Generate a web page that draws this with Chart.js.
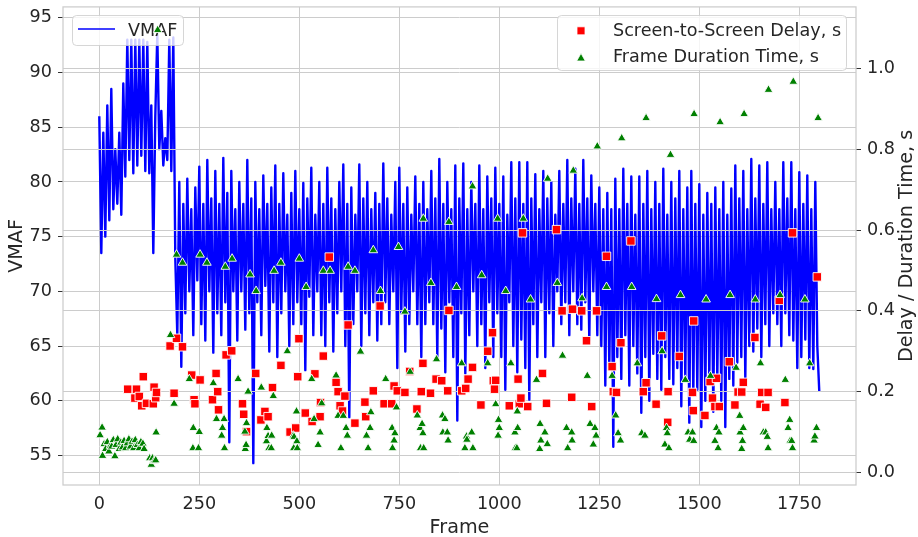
<!DOCTYPE html>
<html><head><meta charset="utf-8">
<script src="https://cdn.jsdelivr.net/npm/chart.js@4.4.1/dist/chart.umd.min.js"></script>
<style>html,body{margin:0;padding:0;background:#fff;}#wrap{width:918px;height:537px;}</style>
</head><body><div id="wrap"><canvas id="c" width="918" height="537"></canvas></div>
<script>
// ---- data ----
const xTicks = [0, 250, 500, 750, 1000, 1250, 1500, 1750];
const vmafTicks = [55, 60, 65, 70, 75, 80, 85, 90, 95];
const timeTicks = [0, 0.2, 0.4, 0.6, 0.8, 1.0];
const frameStep = 5; // VMAF sampled every 5th frame
const vmaf = [
 86, 73.5, 84.5, 75, 87, 76.5, 88.5, 77.5, 83, 78,
 84.5, 77, 89, 80.5, 93, 82, 93, 80.8, 93, 81.5,
 93, 82.4, 93, 81, 92.8, 80.8, 87, 73.5, 86, 93.5,
 83, 86.5, 81.5, 84, 82, 93, 81, 93.2, 73, 66,
 80, 63.1, 78, 68, 80.3, 70, 77.5, 66, 79.5, 71,
 81.4, 67, 78, 65.5, 82, 70, 78.5, 64.4, 81, 68,
 78, 66, 82.2, 69, 79, 56.2, 81, 70, 77.5, 65.5,
 80, 70, 78, 66.5, 82, 68, 78.5, 54.3, 80, 69,
 77.5, 66, 80.6, 70.5, 78, 64.5, 79.5, 69, 81.5, 64,
 78, 68, 80.8, 70, 77, 65, 79, 67, 81, 69,
 77.5, 67, 79.9, 62.8, 78.5, 69.5, 81.3, 66, 77, 70,
 80, 66, 78, 65, 81.3, 69, 78.5, 64.5, 77.5, 68,
 80, 70, 81.6, 65, 78, 58.5, 79.5, 67, 77, 70,
 81.6, 65, 78.5, 68, 80, 66, 77.5, 69, 79, 65.5,
 78, 67, 81.7, 69, 78.5, 67, 77, 70, 80, 63,
 81.3, 68, 78, 64.5, 79.5, 67, 77, 70, 80.5, 67,
 78, 64, 80, 67, 77.5, 69, 81, 67, 78.5, 64,
 82.1, 66.6, 78, 62.6, 80, 69, 77.5, 64, 81.5, 58.2,
 78.5, 68, 81.7, 62.5, 77.5, 66, 80, 70, 78, 65,
 81.5, 67, 77.5, 63, 80.5, 69, 78.5, 64, 81.3, 68,
 78, 64, 80.5, 61, 77, 69, 81.8, 65, 78.5, 62.6,
 81.8, 65.6, 78, 63, 81.8, 60.1, 78.5, 67, 80.7, 64,
 77.5, 69, 81, 64, 78.5, 68, 80, 65, 77, 70,
 81, 67, 78, 69, 82, 66, 78.5, 70, 81.2, 67,
 78, 66.5, 82, 69, 78.5, 65.5, 80.6, 70, 78, 66,
 79.5, 65, 77.5, 61.4, 79, 63, 77.5, 55.8, 80.3, 64,
 77.5, 62, 81.2, 66, 78, 61.4, 80.5, 65, 77, 62.5,
 80.5, 58.9, 78, 64, 81, 60, 77.5, 64.3, 80, 62,
 78, 61, 81.2, 64, 77, 62, 80, 61.5, 78.5, 63,
 81, 59.5, 77.5, 62, 79.5, 58, 81, 60.5, 78, 61,
 79.8, 57.6, 77, 60, 79, 62, 78, 59, 79.5, 62,
 77.5, 60, 80, 57.6, 77, 62, 79.4, 61.4, 81.5, 63.5,
 78.5, 64, 81, 62, 77.5, 65, 82.1, 64.5, 78.5, 66.6,
 81.5, 64, 78, 67, 81.8, 65, 77.5, 68, 80, 67,
 77.5, 65, 81.8, 68, 78.5, 66, 81.8, 65.5, 77.5, 63,
 80.9, 64, 78, 65.6, 80.6, 63, 77.5, 62.9, 80, 65,
 60.8
];
// [frame, seconds]
const delayPoints = [
 [71,0.206],[89,0.184],[93,0.206],[100,0.188],[106,0.165],[110,0.237],[118,0.171],[135,0.170],[137,0.211],[141,0.185],
 [143,0.198],[177,0.313],[187,0.196],[193,0.332],[208,0.311],[231,0.241],[237,0.180],[239,0.170],[252,0.229],[283,0.180],
 [292,0.245],[296,0.200],[298,0.155],[317,0.291],[331,0.301],[358,0.170],[361,0.144],[368,0.101],[391,0.245],[404,0.130],
 [414,0.151],[422,0.138],[433,0.210],[454,0.265],[477,0.100],[491,0.110],[496,0.237],[499,0.331],[515,0.147],[532,0.126],
 [539,0.244],[552,0.138],[553,0.173],[560,0.288],[575,0.533],[592,0.223],[597,0.200],[602,0.165],[608,0.152],[614,0.189],
 [622,0.365],[639,0.122],[664,0.174],[666,0.138],[685,0.202],[702,0.412],[712,0.170],[731,0.170],[737,0.214],[745,0.202],
 [764,0.198],[776,0.250],[794,0.157],[805,0.200],[809,0.270],[828,0.196],[842,0.231],[856,0.227],[871,0.202],[874,0.401],
 [906,0.202],[916,0.208],[922,0.231],[933,0.260],[954,0.167],[971,0.300],[983,0.346],[985,0.227],[988,0.206],[991,0.228],
 [1025,0.165],[1047,0.231],[1050,0.170],[1054,0.184],[1058,0.593],[1071,0.163],[1108,0.245],[1118,0.171],[1143,0.601],[1157,0.400],
 [1181,0.186],[1183,0.404],[1206,0.400],[1218,0.326],[1231,0.163],[1243,0.400],[1268,0.535],[1282,0.262],[1285,0.200],[1293,0.198],
 [1304,0.321],[1329,0.573],[1360,0.200],[1367,0.222],[1392,0.169],[1406,0.338],[1421,0.124],[1422,0.200],[1450,0.287],[1483,0.198],
 [1485,0.153],[1486,0.375],[1514,0.141],[1527,0.225],[1533,0.184],[1539,0.163],[1543,0.233],[1550,0.163],[1575,0.274],[1589,0.167],
 [1597,0.199],[1606,0.199],[1610,0.223],[1639,0.334],[1652,0.169],[1656,0.198],[1666,0.161],[1672,0.198],[1700,0.426],[1714,0.173],
 [1733,0.593],[1795,0.484]
];
const durationPoints = [
 [2,0.092],[7,0.111],[8,0.041],[12,0.070],[16,0.058],[20,0.075],[24,0.052],[28,0.066],[31,0.064],[35,0.080],
 [39,0.040],[42,0.068],[46,0.082],[50,0.058],[54,0.074],[58,0.062],[62,0.078],[66,0.060],[70,0.072],[74,0.082],
 [78,0.064],[82,0.076],[86,0.060],[90,0.080],[95,0.068],[100,0.060],[104,0.075],[109,0.071],[112,0.058],[126,0.035],
 [130,0.019],[133,0.035],[137,0.028],[141,0.030],[142,0.099],[146,1.095],[178,0.340],[187,0.170],[193,0.539],[208,0.519],
 [225,0.231],[234,0.060],[235,0.110],[248,0.060],[250,0.100],[252,0.539],[269,0.519],[285,0.221],[293,0.132],[306,0.091],
 [308,0.110],[312,0.132],[313,0.060],[315,0.509],[332,0.529],[347,0.231],[364,0.101],[365,0.058],[367,0.068],[368,0.122],
 [372,0.200],[377,0.490],[392,0.449],[405,0.210],[418,0.077],[419,0.110],[422,0.090],[424,0.060],[430,0.060],[431,0.091],
 [435,0.189],[437,0.499],[454,0.519],[470,0.300],[485,0.091],[486,0.060],[487,0.088],[493,0.151],[494,0.077],[495,0.060],
 [500,0.529],[517,0.459],[531,0.231],[537,0.132],[547,0.068],[552,0.099],[556,0.171],[560,0.499],[577,0.499],[592,0.240],
 [597,0.140],[604,0.060],[610,0.140],[617,0.110],[620,0.091],[622,0.509],[639,0.499],[653,0.299],[668,0.091],[672,0.060],
 [677,0.110],[679,0.149],[685,0.550],[703,0.449],[716,0.231],[732,0.110],[733,0.060],[737,0.079],[739,0.097],[743,0.161],
 [748,0.558],[764,0.398],[777,0.249],[795,0.141],[802,0.110],[803,0.060],[807,0.120],[809,0.097],[810,0.628],[811,0.060],
 [829,0.469],[843,0.280],[858,0.141],[859,0.099],[864,0.132],[870,0.099],[872,0.079],[874,0.620],[893,0.459],[906,0.270],
 [914,0.060],[918,0.089],[919,0.081],[931,0.099],[933,0.708],[934,0.060],[956,0.488],[971,0.270],[991,0.169],[996,0.628],
 [997,0.091],[998,0.130],[1000,0.110],[1016,0.449],[1029,0.270],[1039,0.099],[1040,0.060],[1044,0.060],[1045,0.151],[1046,0.110],
 [1060,0.628],[1078,0.428],[1093,0.229],[1101,0.058],[1102,0.120],[1104,0.079],[1114,0.099],[1120,0.070],[1121,0.727],[1145,0.469],
 [1158,0.289],[1168,0.110],[1171,0.060],[1181,0.099],[1182,0.079],[1185,0.747],[1207,0.431],[1220,0.239],[1227,0.120],[1235,0.069],
 [1239,0.110],[1242,0.091],[1245,0.807],[1268,0.459],[1282,0.239],[1291,0.141],[1297,0.097],[1303,0.079],[1306,0.827],[1331,0.459],
 [1345,0.270],[1356,0.097],[1364,0.091],[1367,0.877],[1393,0.429],[1407,0.300],[1414,0.069],[1418,0.110],[1420,0.097],[1424,0.060],
 [1428,0.786],[1453,0.439],[1465,0.229],[1472,0.099],[1476,0.081],[1483,0.099],[1486,0.078],[1487,0.887],[1517,0.428],[1528,0.239],
 [1539,0.078],[1543,0.110],[1547,0.060],[1549,0.099],[1552,0.867],[1577,0.439],[1592,0.259],[1601,0.140],[1602,0.099],[1606,0.058],
 [1608,0.078],[1610,0.110],[1612,0.887],[1640,0.428],[1653,0.270],[1660,0.099],[1666,0.099],[1670,0.088],[1672,0.060],[1673,0.947],
 [1702,0.439],[1715,0.229],[1722,0.110],[1726,0.130],[1727,0.078],[1731,0.078],[1733,0.060],[1735,0.967],[1764,0.428],[1776,0.270],
 [1787,0.079],[1789,0.089],[1793,0.110],[1797,0.877]
];
const labels = {
  x: 'Frame', y: 'VMAF', y2: 'Delay / Duration Time, s',
  line: 'VMAF', delay: 'Screen-to-Screen Delay, s', duration: 'Frame Duration Time, s'
};

// ---- style ----
const FONT = 'DejaVu Sans';
const TXT = '#262626';
const GRID = '#cccccc';
const TICKPX = 17.6, LABELPX = 19.2;
Chart.defaults.font.family = FONT;
Chart.defaults.color = TXT;

function rrect(ctx, x, y, w, h, r) {
  ctx.beginPath();
  ctx.moveTo(x + r, y);
  ctx.lineTo(x + w - r, y); ctx.arcTo(x + w, y, x + w, y + r, r);
  ctx.lineTo(x + w, y + h - r); ctx.arcTo(x + w, y + h, x + w - r, y + h, r);
  ctx.lineTo(x + r, y + h); ctx.arcTo(x, y + h, x, y + h - r, r);
  ctx.lineTo(x, y + r); ctx.arcTo(x, y, x + r, y, r);
  ctx.closePath();
}
function legendBox(ctx, x, y, w, h) {
  rrect(ctx, x, y, w, h, 4);
  ctx.fillStyle = 'rgba(255,255,255,0.8)';
  ctx.fill();
  ctx.strokeStyle = 'rgba(204,204,204,0.8)';
  ctx.lineWidth = 1;
  ctx.stroke();
}
function noPad(s) { s.paddingTop = 0; s.paddingBottom = 0; s.paddingLeft = 0; s.paddingRight = 0; }

const overlay = {
  id: 'overlay',
  afterDatasetDraw(chart, args) {
    if (args.index !== 0) return;
    const ctx = chart.ctx, ca = chart.chartArea, y2 = chart.scales.y2;
    ctx.save();
    // spines
    ctx.strokeStyle = GRID; ctx.lineWidth = 1.25;
    ctx.strokeRect(ca.left, ca.top, ca.right - ca.left, ca.bottom - ca.top);
    // legend of left axis (drawn above the line, below the right-axis content)
    legendBox(ctx, 72.5, 15.5, 111, 30);
    ctx.strokeStyle = '#0000ff'; ctx.lineWidth = 1.5;
    ctx.beginPath(); ctx.moveTo(78, 29); ctx.lineTo(115, 29); ctx.stroke();
    ctx.fillStyle = TXT; ctx.font = TICKPX + 'px ' + FONT; ctx.textBaseline = 'alphabetic'; ctx.textAlign = 'left';
    ctx.fillText(labels.line, 128, 35.5);
    // grid of the right axis (drawn over the VMAF line)
    ctx.strokeStyle = GRID; ctx.lineWidth = 1;
    timeTicks.forEach(v => {
      const p = Math.round(y2.getPixelForValue(v) - 0.5) + 0.5;
      ctx.beginPath(); ctx.moveTo(ca.left, p); ctx.lineTo(ca.right, p); ctx.stroke();
    });
    ctx.restore();
  },
  afterDraw(chart) {
    const ctx = chart.ctx, ca = chart.chartArea;
    ctx.save();
    // right legend
    legendBox(ctx, 557.5, 15.5, 289, 55);
    ctx.fillStyle = '#ff0000'; ctx.strokeStyle = '#ffffff'; ctx.lineWidth = 0.8;
    ctx.beginPath(); ctx.rect(577, 26.8, 8, 8); ctx.fill(); ctx.stroke();
    ctx.fillStyle = '#008000';
    ctx.beginPath(); ctx.moveTo(581, 53.3); ctx.lineTo(585.3, 61); ctx.lineTo(576.7, 61); ctx.closePath(); ctx.fill(); ctx.stroke();
    ctx.fillStyle = TXT; ctx.font = TICKPX + 'px ' + FONT; ctx.textBaseline = 'alphabetic'; ctx.textAlign = 'left';
    ctx.fillText(labels.delay, 613, 36);
    ctx.fillText(labels.duration, 613, 61.8);
    // axis titles
    ctx.font = LABELPX + 'px ' + FONT; ctx.textAlign = 'center';
    ctx.fillText(labels.x, (ca.left + ca.right) / 2, 532.7);
    const cy = (ca.top + ca.bottom) / 2;
    ctx.save(); ctx.translate(22, cy); ctx.rotate(-Math.PI / 2); ctx.fillText(labels.y, 0, 0); ctx.restore();
    ctx.save(); ctx.translate(912, cy); ctx.rotate(-Math.PI / 2); ctx.fillText(labels.y2, 0, 0); ctx.restore();
    ctx.restore();
  }
};

const lineData = vmaf.map((v, i) => ({ x: i * frameStep, y: v }));
const delayData = delayPoints.map(p => ({ x: p[0], y: p[1] }));
const durationData = durationPoints.map(p => ({ x: p[0], y: p[1] }));

new Chart(document.getElementById('c'), {
  type: 'scatter',
  data: {
    datasets: [
      { label: labels.line, data: lineData, yAxisID: 'y', showLine: true, pointRadius: 0,
        borderColor: '#0000ff', backgroundColor: '#0000ff', borderWidth: 2.4, borderJoinStyle: 'round', tension: 0, order: 3 },
      { label: labels.delay, data: delayData, yAxisID: 'y2', pointStyle: 'rect', pointRadius: 6,
        backgroundColor: '#ff0000', borderColor: '#ffffff', borderWidth: 0.9, order: 2 },
      { label: labels.duration, data: durationData, yAxisID: 'y2', pointStyle: 'triangle', pointRadius: 5,
        backgroundColor: '#008000', borderColor: '#ffffff', borderWidth: 0.9, order: 1 }
    ]
  },
  options: {
    responsive: false, animation: false, events: [],
    layout: { padding: { top: 6, left: 0, right: 0, bottom: 0 } },
    plugins: { legend: { display: false }, tooltip: { enabled: false } },
    scales: {
      x: {
        type: 'linear', position: 'bottom', min: -90.75, max: 1891.75,
        afterBuildTicks: s => { s.ticks = xTicks.map(v => ({ value: v })); },
        afterFit: s => { s.height = 52; noPad(s); },
        ticks: { font: { size: TICKPX }, color: TXT, padding: 9, maxRotation: 0, autoSkip: false, callback: v => String(v) },
        grid: { color: GRID, lineWidth: 1, drawTicks: false },
        border: { display: false }
      },
      y: {
        type: 'linear', position: 'left', min: 52.30, max: 96.0,
        afterBuildTicks: s => { s.ticks = vmafTicks.map(v => ({ value: v })); },
        afterFit: s => { s.width = 63; noPad(s); },
        ticks: { font: { size: TICKPX }, color: TXT, padding: 6, callback: v => String(v) },
        grid: { color: GRID, lineWidth: 1, tickColor: '#333333', tickLength: 5 },
        border: { display: false }
      },
      y2: {
        type: 'linear', position: 'right', min: -0.0311, max: 1.1523,
        afterBuildTicks: s => { s.ticks = timeTicks.map(v => ({ value: v })); },
        afterFit: s => { s.width = 62; noPad(s); },
        ticks: { font: { size: TICKPX }, color: TXT, padding: 6, callback: v => Number(v).toFixed(1) },
        grid: { drawOnChartArea: false, tickColor: '#333333', tickLength: 5 },
        border: { display: false }
      }
    }
  },
  plugins: [overlay]
});
</script>
</body></html>
